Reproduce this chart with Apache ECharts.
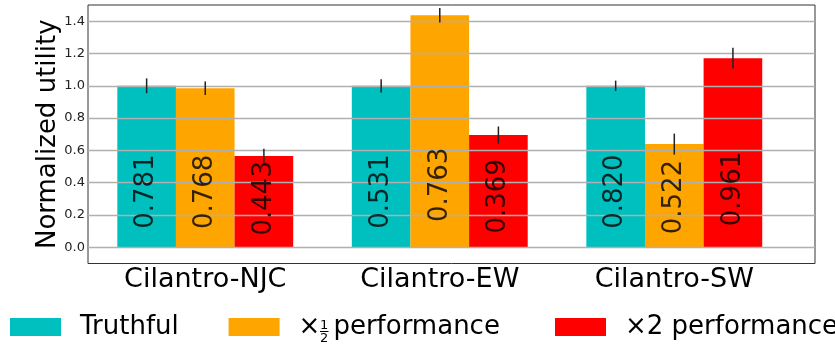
<!DOCTYPE html>
<html><head><meta charset="utf-8">
<script src="https://cdn.jsdelivr.net/npm/echarts/dist/echarts.min.js"></script>
<style>html,body{margin:0;padding:0;background:#fff}#c{width:835px;height:347px}</style>
</head><body><div id="c"></div>
<script>
const categories = ['Cilantro-NJC', 'Cilantro-EW', 'Cilantro-SW'];
const seriesNames = ['Truthful', '×½ performance', '×2 performance'];
const truthful = [1.0, 1.0, 1.0];
const half = [0.985, 1.437, 0.639];
const double = [0.565, 0.695, 1.171];
const truthfulErr = [0.046, 0.041, 0.032];
const halfErr = [0.042, 0.045, 0.065];
const doubleErr = [0.045, 0.053, 0.064];
const truthfulText = ['0.781', '0.531', '0.820'];
const halfText = ['0.768', '0.763', '0.522'];
const doubleText = ['0.443', '0.369', '0.961'];
const yTicks = [0, 0.2, 0.4, 0.6, 0.8, 1.0, 1.2, 1.4];

const colors = ['#00bfbf', '#ffa500', '#ff0000'];
const FONT = 'DejaVu Sans';
const groups = [
  {name: seriesNames[0], vals: truthful, errs: truthfulErr, txt: truthfulText, off: -0.25},
  {name: seriesNames[1], vals: half, errs: halfErr, txt: halfText, off: 0},
  {name: seriesNames[2], vals: double, errs: doubleErr, txt: doubleText, off: 0.25}
];

const series = [];
groups.forEach((g, k) => {
  series.push({
    name: g.name, type: 'bar', z: 2,
    barWidth: '25%', barGap: '0%',
    itemStyle: {color: colors[k]},
    data: g.vals.map((v, i) => [i, v])
  });
});
groups.forEach((g, k) => {
  series.push({
    type: 'custom', z: 4, silent: true,
    data: g.vals.map((v, i) => [i + g.off, v, g.errs[i]]),
    renderItem: function (params, api) {
      const x = api.value(0), v = api.value(1), e = api.value(2);
      const p1 = api.coord([x, v + e]), p2 = api.coord([x, v - e]);
      return {type: 'line', shape: {x1: p1[0], y1: p1[1], x2: p2[0], y2: p2[1]},
        style: {stroke: '#222', lineWidth: 1.5}};
    }
  });
  series.push({
    type: 'scatter', z: 5, silent: true, symbolSize: 0,
    data: g.vals.map((v, i) => [i + g.off, 0.25 + 0.095 * v, g.txt[i]]),
    label: {show: true, position: 'inside', rotate: 90, formatter: p => p.data[2],
      fontFamily: FONT, fontSize: 26, color: '#000'}
  });
});

const legendLefts = [10, 228.6, 555];
const legends = seriesNames.map((n, k) => ({
  data: [n], left: legendLefts[k], top: 314, padding: 0,
  itemWidth: 51, itemHeight: 18, icon: 'rect', selectedMode: false,
  formatter: k === 1 ? (() => '×{g| }performance') : undefined,
  textStyle: {fontFamily: FONT, fontSize: 26, lineHeight: 26, color: '#000', padding: [0, 0, 0, 14],
    rich: {g: {width: 13, fontSize: 26, lineHeight: 26}}}
}));

const chart = echarts.init(document.getElementById('c'), null, {renderer: 'canvas'});
chart.setOption({
  animation: false,
  backgroundColor: '#fff',
  grid: {left: 88, right: 20, top: 5, height: 258.5, show: true, borderColor: '#333', borderWidth: 1, backgroundColor: 'transparent'},
  legend: legends,
  graphic: [
    {type: 'text', left: 320, top: 319, style: {text: '1', fontFamily: FONT, fontSize: 13, fill: '#000'}},
    {type: 'line', shape: {x1: 320, y1: 331.5, x2: 328.5, y2: 331.5}, style: {stroke: '#000', lineWidth: 1}},
    {type: 'text', left: 320, top: 332.5, style: {text: '2', fontFamily: FONT, fontSize: 13, fill: '#000'}}
  ],
  xAxis: {
    type: 'value', min: -0.5, max: 2.6,
    axisLine: {show: false}, axisTick: {show: false}, splitLine: {show: false},
    axisLabel: {customValues: [0, 1, 2], formatter: v => categories[Math.round(v)],
      fontFamily: FONT, fontSize: 27, color: '#000', margin: 3}
  },
  yAxis: {
    type: 'value', min: -0.1, max: 1.5, z: 3,
    name: 'Normalized utility', nameLocation: 'middle', nameGap: 27, nameMoveOverlap: false,
    nameTextStyle: {fontFamily: FONT, fontSize: 26, lineHeight: 26, color: '#000'},
    axisLine: {show: false},
    axisTick: {show: false, customValues: yTicks},
    axisLabel: {customValues: yTicks, formatter: v => v.toFixed(1),
      fontFamily: FONT, fontSize: 13, color: '#222', margin: 3},
    splitLine: {show: true, lineStyle: {color: '#b0b0b0', width: 1.3}}
  },
  series: series
});
</script></body></html>
